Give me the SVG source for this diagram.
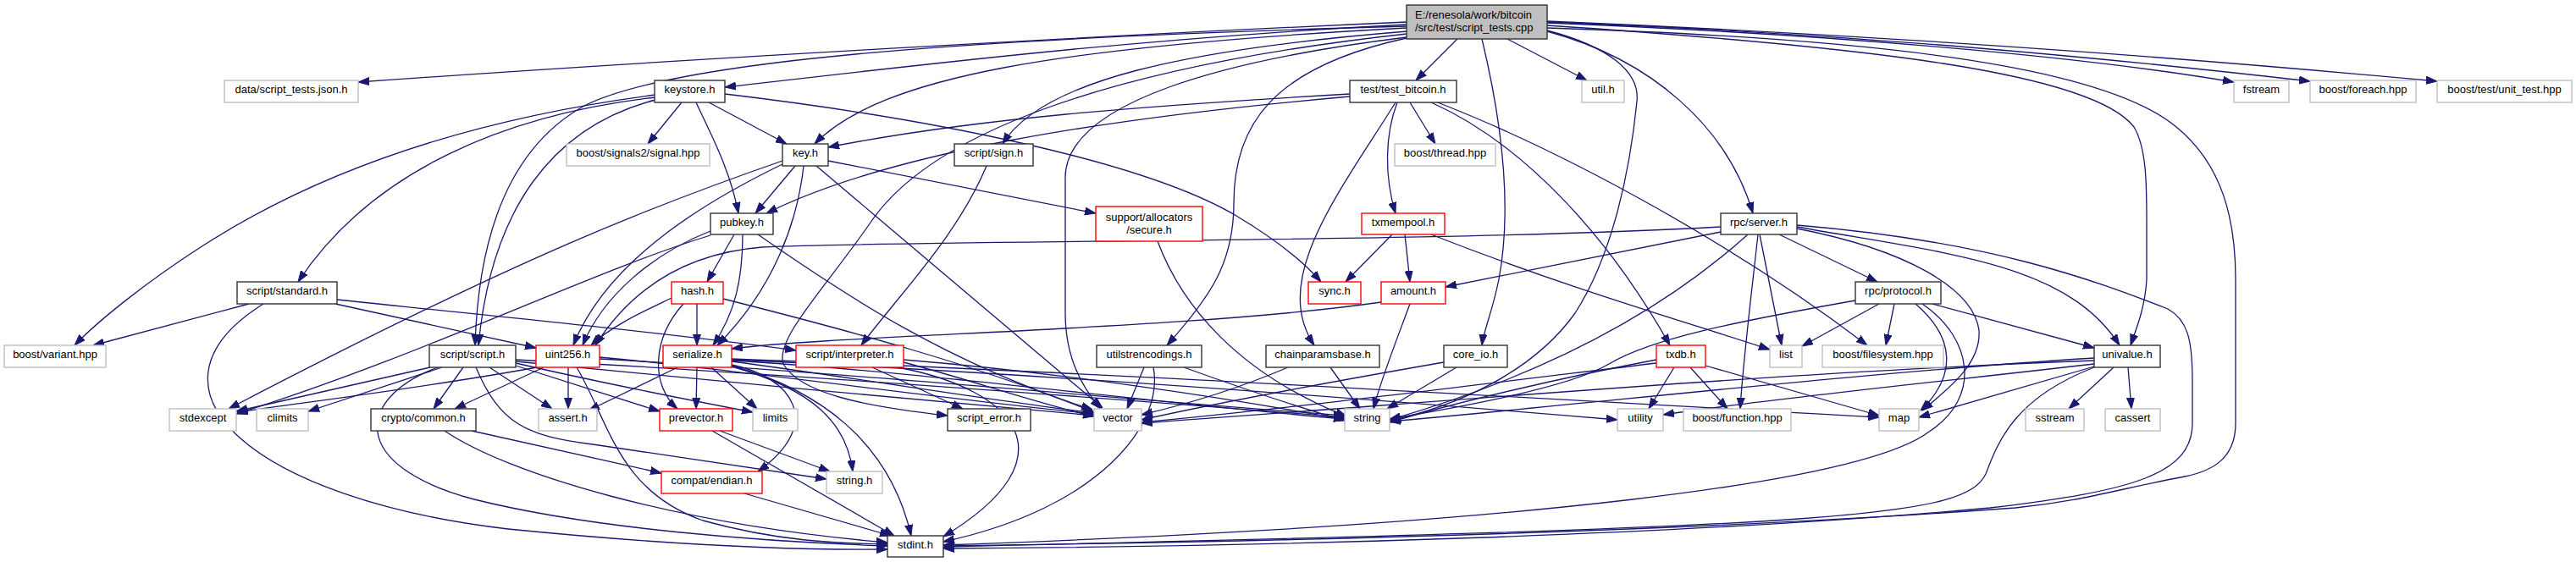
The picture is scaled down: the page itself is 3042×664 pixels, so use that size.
<svg xmlns="http://www.w3.org/2000/svg" width="3042" height="664" viewBox="0 0 3042 664">
<style>
.e path{fill:none;stroke:#191970;stroke-width:1.3;marker-end:url(#a)}
.n rect{fill:#fff;stroke-width:1.4}
.k rect{stroke:#333}
.g rect{stroke:#bfbfbf}
.r rect{stroke:#ff0000}
.m rect{fill:#bfbfbf;stroke:#333}
text{font-family:"Liberation Sans",Arial,sans-serif;font-size:13px;fill:#000;text-anchor:middle}
.m text{text-anchor:start}
</style>
<defs>
<marker id="a" viewBox="0 0 13 10" refX="13" refY="5" markerWidth="13" markerHeight="10" markerUnits="userSpaceOnUse" orient="auto">
<path d="M0,0.5 L13,5 L0,9.5 Z" fill="#191970" stroke="#191970" stroke-width="1"/>
</marker>
</defs>
<rect width="3042" height="664" fill="#fff"/>
<g id="edges" class="e">
<path d="M1661,26 C1300,42 800,70 423,97"/>
<path d="M1661,29 C1350,45 1100,75 856,103"/>
<path d="M1661,33 C1250,55 1040,90 962,170"/>
<path d="M1662,37 C1400,58 1230,95 1184,170"/>
<path d="M1661,31 C1150,45 800,70 690,125 C600,175 565,280 561,408"/>
<path d="M1661,40 C1300,80 1100,160 1030,260 C975,340 915,400 925,430 C945,465 1020,480 1119,491"/>
<path d="M1780,46 L1874,95"/>
<path d="M1661,45 C1500,80 1457,150 1457,240 C1457,310 1430,350 1378,408"/>
<path d="M1721,46 L1672,95"/>
<path d="M1827,37 C1950,70 2040,150 2070,252"/>
<path d="M1750,46 C1775,150 1785,250 1770,330 C1762,370 1752,390 1750,408"/>
<path d="M1827,36 C1900,55 1937,85 1933,120 C1925,200 1905,300 1860,370 C1810,440 1720,480 1641,497"/>
<path d="M1661,44 C1450,70 1258,120 1258,210 L1258,370 C1258,420 1275,455 1300,483"/>
<path d="M1827,33 C2200,45 2480,75 2570,150 C2625,195 2640,260 2640,330 L2640,500 C2640,540 2615,556 2580,563 C2500,578 2460,592 2380,600 C2000,628 1500,640 1114,645"/>
<path d="M1827,30 C2200,55 2470,85 2520,150 C2535,175 2535,220 2535,260 L2535,330 C2533,365 2522,390 2516,408"/>
<path d="M1827,27 C2150,40 2450,65 2638,97"/>
<path d="M1827,26 C2200,40 2500,70 2728,96"/>
<path d="M1827,25 C2300,45 2650,75 2878,96"/>
<path d="M805,121 L765,170"/>
<path d="M837,121 L929,170"/>
<path d="M822,121 C840,160 862,200 872,252"/>
<path d="M774,118 C650,150 580,250 565,408"/>
<path d="M774,115 C600,135 440,200 352,333"/>
<path d="M774,112 C560,140 380,200 240,290 C170,335 115,380 88,408"/>
<path d="M856,111 C1100,140 1350,190 1460,255 C1510,285 1540,310 1560,333"/>
<path d="M939,196 L892,252"/>
<path d="M949,196 C942,260 915,340 847,408"/>
<path d="M978,190 L1294,252"/>
<path d="M924,194 C850,230 720,300 677,408"/>
<path d="M924,190 C780,240 620,300 270,483"/>
<path d="M964,196 L1302,482"/>
<path d="M867,277 L835,333"/>
<path d="M877,277 C877,330 868,370 842,408"/>
<path d="M839,273 C770,300 712,350 688,408"/>
<path d="M839,278 C700,320 500,420 279,489"/>
<path d="M895,277 C1000,350 1120,430 1290,484"/>
<path d="M823,359 L823,408"/>
<path d="M807,359 C770,400 768,455 800,483"/>
<path d="M793,352 C760,368 722,385 698,408"/>
<path d="M854,353 C1000,390 1150,430 1292,487"/>
<path d="M294,359 L110,408"/>
<path d="M396,359 L633,411"/>
<path d="M398,354 C600,375 800,395 940,414"/>
<path d="M311,359 C150,460 300,590 600,625 C800,645 950,650 1048,649"/>
<path d="M508,434 L279,486"/>
<path d="M522,434 L364,486"/>
<path d="M547,434 L512,483"/>
<path d="M578,434 L652,483"/>
<path d="M609,432 L779,486"/>
<path d="M609,429 C700,450 800,470 889,487"/>
<path d="M562,434 C590,500 620,515 700,525 C800,540 900,555 976,566"/>
<path d="M517,434 C420,470 410,550 560,590 C700,625 900,640 1048,645"/>
<path d="M609,427 C800,445 1100,475 1292,491"/>
<path d="M609,425 C900,440 1300,470 1588,493"/>
<path d="M642,434 L537,483"/>
<path d="M671,434 L671,483"/>
<path d="M634,434 C520,455 400,470 280,487"/>
<path d="M681,434 C720,500 730,580 830,615 C920,640 990,642 1048,643"/>
<path d="M708,424 C1000,440 1300,470 1588,491"/>
<path d="M708,422 C900,440 1100,470 1292,489"/>
<path d="M823,434 L822,483"/>
<path d="M840,434 L894,483"/>
<path d="M864,431 C935,445 975,500 895,557"/>
<path d="M864,433 C960,460 1000,500 1007,557"/>
<path d="M864,432 C965,460 1050,520 1076,633"/>
<path d="M800,434 L695,485"/>
<path d="M864,427 C1000,445 1150,470 1292,488"/>
<path d="M864,426 C1100,440 1350,475 1588,495"/>
<path d="M864,425 C1200,440 1600,470 1910,496"/>
<path d="M864,424 C1300,440 1800,470 2219,493"/>
<path d="M1030,434 L1137,483"/>
<path d="M1067,428 C1150,450 1220,475 1292,492"/>
<path d="M1067,425 C1250,440 1450,470 1588,496"/>
<path d="M1060,434 C1200,460 1270,540 1114,634"/>
<path d="M1165,196 C1130,280 1060,350 1017,408"/>
<path d="M557,509 C650,530 720,545 781,559"/>
<path d="M525,509 C600,560 800,620 1048,641"/>
<path d="M850,509 L980,557"/>
<path d="M841,509 L1056,633"/>
<path d="M879,583 L1052,633"/>
<path d="M1594,111 C1350,125 1150,140 978,174"/>
<path d="M1594,114 C1300,140 1050,180 905,252"/>
<path d="M1665,121 L1695,170"/>
<path d="M1650,121 C1635,160 1635,210 1648,252"/>
<path d="M1648,121 C1580,230 1500,330 1552,408"/>
<path d="M1690,121 C1800,170 1900,280 1972,408"/>
<path d="M1695,120 C1850,180 2050,290 2205,408"/>
<path d="M1644,277 L1589,333"/>
<path d="M1659,277 L1665,333"/>
<path d="M1690,277 C1850,340 1990,380 2090,413"/>
<path d="M1631,357 C1400,390 1000,395 864,412"/>
<path d="M1665,359 C1650,400 1630,450 1622,483"/>
<path d="M1367,285 C1395,360 1460,440 1590,492"/>
<path d="M1571,434 L1606,483"/>
<path d="M1521,434 C1460,460 1400,478 1348,490"/>
<path d="M1720,434 L1638,483"/>
<path d="M1705,428 C1550,455 1420,480 1348,496"/>
<path d="M1351,434 L1331,483"/>
<path d="M1362,434 C1375,500 1300,600 1114,640"/>
<path d="M1398,434 C1470,460 1530,480 1588,497"/>
<path d="M1977,434 L1947,483"/>
<path d="M1996,434 L2040,483"/>
<path d="M2014,432 L2219,491"/>
<path d="M1956,425 C1850,445 1720,475 1641,499"/>
<path d="M1956,429 C1700,460 1500,485 1348,499"/>
<path d="M2032,274 L1707,339"/>
<path d="M2101,277 L2217,333"/>
<path d="M2032,268 C1700,287 1100,283 900,292 C800,300 740,350 703,408"/>
<path d="M2078,277 L2104,408"/>
<path d="M2076,277 C2068,350 2058,430 2055,483"/>
<path d="M2064,277 C1950,380 1800,450 1641,496"/>
<path d="M2122,270 C2250,295 2330,340 2337,390 C2340,430 2300,460 2270,485"/>
<path d="M2122,268 C2300,300 2440,310 2503,408"/>
<path d="M2122,266 C2350,285 2470,330 2560,365 C2583,378 2589,400 2589,450 L2589,500 C2589,560 2520,580 2350,600 C2000,632 1500,646 1114,648"/>
<path d="M2219,359 L2128,409"/>
<path d="M2237,359 L2227,408"/>
<path d="M2262,359 C2310,400 2310,445 2268,485"/>
<path d="M2282,359 L2473,411"/>
<path d="M2191,355 C2050,380 1950,400 1900,430 C1850,460 1700,485 1641,495"/>
<path d="M2270,359 C2330,400 2340,470 2278,510 C2200,570 1800,620 1114,644"/>
<path d="M2496,434 L2443,483"/>
<path d="M2513,434 L2517,483"/>
<path d="M2473,433 L2266,493"/>
<path d="M2473,430 C2300,450 2100,470 1964,490"/>
<path d="M2473,423 C2200,440 1900,475 1641,498"/>
<path d="M2473,426 C2100,440 1700,475 1348,500"/>
<path d="M2473,434 C2380,470 2360,520 2345,560 C2320,610 2200,622 1114,646"/>
</g>
<g id="n_main" class="n m"><rect x="1661" y="6" width="166" height="40"/><text x="1671" y="21.5">E:/renesola/work/bitcoin</text><text x="1671" y="36.5">/src/test/script_tests.cpp</text></g>
<g id="n_data" class="n g"><rect x="265" y="95" width="158" height="26"/><text x="344" y="110">data/script_tests.json.h</text></g>
<g id="n_keystore" class="n k"><rect x="773" y="95" width="83" height="26"/><text x="814.5" y="110">keystore.h</text></g>
<g id="n_test_bitcoin" class="n k"><rect x="1594" y="95" width="126" height="26"/><text x="1657" y="110">test/test_bitcoin.h</text></g>
<g id="n_util" class="n g"><rect x="1868" y="95" width="50" height="26"/><text x="1893" y="110">util.h</text></g>
<g id="n_fstream" class="n g"><rect x="2638" y="95" width="65" height="26"/><text x="2670.5" y="110">fstream</text></g>
<g id="n_foreach" class="n g"><rect x="2728" y="95" width="125" height="26"/><text x="2790.5" y="110">boost/foreach.hpp</text></g>
<g id="n_unit_test" class="n g"><rect x="2878" y="95" width="159" height="26"/><text x="2957.5" y="110">boost/test/unit_test.hpp</text></g>
<g id="n_signal" class="n g"><rect x="669" y="170" width="169" height="26"/><text x="753.5" y="185">boost/signals2/signal.hpp</text></g>
<g id="n_key" class="n k"><rect x="924" y="170" width="54" height="26"/><text x="951" y="185">key.h</text></g>
<g id="n_sign" class="n k"><rect x="1127" y="170" width="93" height="26"/><text x="1173.5" y="185">script/sign.h</text></g>
<g id="n_thread" class="n g"><rect x="1647" y="170" width="119" height="26"/><text x="1706.5" y="185">boost/thread.hpp</text></g>
<g id="n_pubkey" class="n k"><rect x="839" y="252" width="74" height="25"/><text x="876" y="267">pubkey.h</text></g>
<g id="n_secure" class="n r"><rect x="1294" y="244" width="126" height="41"/><text x="1357" y="260.5">support/allocators</text><text x="1357" y="275.5">/secure.h</text></g>
<g id="n_txmempool" class="n r"><rect x="1608" y="252" width="98" height="25"/><text x="1657" y="267">txmempool.h</text></g>
<g id="n_server" class="n k"><rect x="2032" y="252" width="90" height="25"/><text x="2077" y="267">rpc/server.h</text></g>
<g id="n_standard" class="n k"><rect x="280" y="333" width="118" height="26"/><text x="339" y="348">script/standard.h</text></g>
<g id="n_hash" class="n r"><rect x="793" y="333" width="61" height="26"/><text x="823.5" y="348">hash.h</text></g>
<g id="n_sync" class="n r"><rect x="1545" y="333" width="62" height="26"/><text x="1576" y="348">sync.h</text></g>
<g id="n_amount" class="n r"><rect x="1631" y="333" width="76" height="26"/><text x="1669" y="348">amount.h</text></g>
<g id="n_protocol" class="n k"><rect x="2191" y="333" width="101" height="26"/><text x="2241.5" y="348">rpc/protocol.h</text></g>
<g id="n_variant" class="n g"><rect x="5" y="408" width="120" height="26"/><text x="65" y="423">boost/variant.hpp</text></g>
<g id="n_script" class="n k"><rect x="507" y="408" width="102" height="26"/><text x="558" y="423">script/script.h</text></g>
<g id="n_uint256" class="n r"><rect x="633" y="408" width="75" height="26"/><text x="670.5" y="423">uint256.h</text></g>
<g id="n_serialize" class="n r"><rect x="783" y="408" width="81" height="26"/><text x="823.5" y="423">serialize.h</text></g>
<g id="n_interpreter" class="n r"><rect x="940" y="408" width="127" height="26"/><text x="1003.5" y="423">script/interpreter.h</text></g>
<g id="n_utilstrencodings" class="n k"><rect x="1295" y="408" width="124" height="26"/><text x="1357" y="423">utilstrencodings.h</text></g>
<g id="n_chainparamsbase" class="n k"><rect x="1495" y="408" width="134" height="26"/><text x="1562" y="423">chainparamsbase.h</text></g>
<g id="n_core_io" class="n k"><rect x="1705" y="408" width="75" height="26"/><text x="1742.5" y="423">core_io.h</text></g>
<g id="n_txdb" class="n r"><rect x="1956" y="408" width="58" height="26"/><text x="1985" y="423">txdb.h</text></g>
<g id="n_list" class="n g"><rect x="2090" y="408" width="38" height="26"/><text x="2109" y="423">list</text></g>
<g id="n_filesystem" class="n g"><rect x="2152" y="408" width="143" height="26"/><text x="2223.5" y="423">boost/filesystem.hpp</text></g>
<g id="n_univalue" class="n k"><rect x="2473" y="408" width="78" height="26"/><text x="2512" y="423">univalue.h</text></g>
<g id="n_stdexcept" class="n g"><rect x="200" y="483" width="79" height="26"/><text x="239.5" y="498">stdexcept</text></g>
<g id="n_climits" class="n g"><rect x="303" y="483" width="61" height="26"/><text x="333.5" y="498">climits</text></g>
<g id="n_common" class="n k"><rect x="438" y="483" width="124" height="26"/><text x="500" y="498">crypto/common.h</text></g>
<g id="n_assert" class="n g"><rect x="636" y="483" width="69" height="26"/><text x="670.5" y="498">assert.h</text></g>
<g id="n_prevector" class="n r"><rect x="779" y="483" width="86" height="26"/><text x="822" y="498">prevector.h</text></g>
<g id="n_limits" class="n g"><rect x="889" y="483" width="53" height="26"/><text x="915.5" y="498">limits</text></g>
<g id="n_script_error" class="n k"><rect x="1119" y="483" width="98" height="26"/><text x="1168" y="498">script_error.h</text></g>
<g id="n_vector" class="n g"><rect x="1292" y="483" width="56" height="26"/><text x="1320" y="498">vector</text></g>
<g id="n_string" class="n g"><rect x="1588" y="483" width="53" height="26"/><text x="1614.5" y="498">string</text></g>
<g id="n_utility" class="n g"><rect x="1910" y="483" width="54" height="26"/><text x="1937" y="498">utility</text></g>
<g id="n_function" class="n g"><rect x="1988" y="483" width="127" height="26"/><text x="2051.5" y="498">boost/function.hpp</text></g>
<g id="n_map" class="n g"><rect x="2219" y="483" width="47" height="26"/><text x="2242.5" y="498">map</text></g>
<g id="n_sstream" class="n g"><rect x="2392" y="483" width="69" height="26"/><text x="2426.5" y="498">sstream</text></g>
<g id="n_cassert" class="n g"><rect x="2486" y="483" width="65" height="26"/><text x="2518.5" y="498">cassert</text></g>
<g id="n_endian" class="n r"><rect x="781" y="557" width="119" height="26"/><text x="840.5" y="572">compat/endian.h</text></g>
<g id="n_string_h" class="n g"><rect x="976" y="557" width="66" height="26"/><text x="1009" y="572">string.h</text></g>
<g id="n_stdint" class="n k"><rect x="1048" y="633" width="66" height="25"/><text x="1081" y="648">stdint.h</text></g>
</svg>
